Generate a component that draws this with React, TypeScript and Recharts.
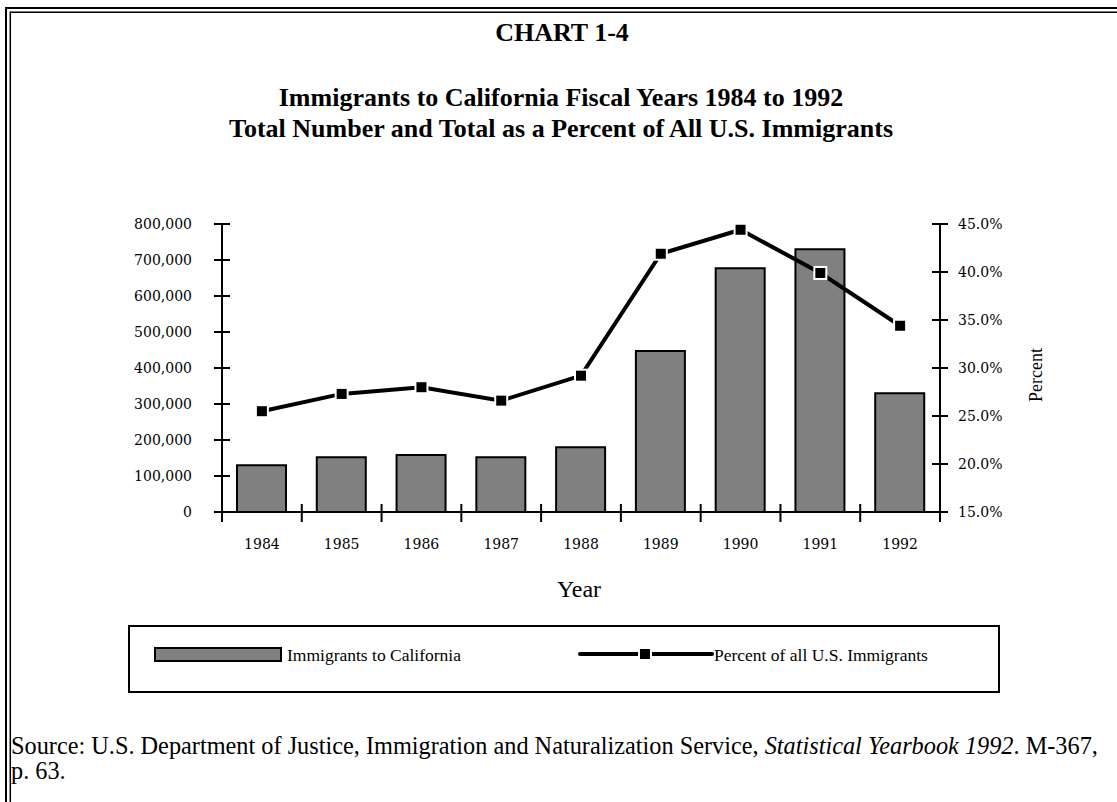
import React from 'react';
import { ComposedChart, Bar, Line, XAxis, YAxis } from 'recharts';

// ---------- data ----------
const years = ['1984', '1985', '1986', '1987', '1988', '1989', '1990', '1991', '1992'];
const immigrantsToCalifornia = [130000, 152000, 158000, 152000, 180000, 447000, 677000, 730000, 330000];
const percentOfAllUS = [25.5, 27.3, 28.0, 26.6, 29.2, 41.9, 44.4, 39.9, 34.4];
const leftTicks = [0, 100000, 200000, 300000, 400000, 500000, 600000, 700000, 800000];
const rightTicks = [15, 20, 25, 30, 35, 40, 45];
const chartLabel = 'CHART 1-4';
const titleLines = [
  'Immigrants to California Fiscal Years 1984 to 1992',
  'Total Number and Total as a Percent of All U.S. Immigrants',
];
const seriesNames = ['Immigrants to California', 'Percent of all U.S. Immigrants'];
const xAxisTitle = 'Year';
const rightAxisTitle = 'Percent';

const data = years.map((year, i) => ({
  year,
  immigrants: immigrantsToCalifornia[i],
  percent: percentOfAllUS[i],
}));

// ---------- layout ----------
const W = 1117;
const H = 802;
const PLOT_L = 222;
const PLOT_R = 940;
const PLOT_T = 224;
const PLOT_B = 512;
const AXIS_W = 80;
const XAXIS_H = 40;
const TICK_SIZE = 8;
const TICK_MARGIN = 2;
const BAND = (PLOT_R - PLOT_L) / years.length;

const serif = '"Liberation Serif", "Times New Roman", serif';
const tickFont = { fontFamily: '"DejaVu Serif", serif', fontSize: 14, fill: '#000' };

const LeftTick = (props: any) => {
  const { x, y, payload } = props;
  const ax = x + TICK_SIZE + TICK_MARGIN;
  return (
    <g>
      <line x1={ax - 8} x2={ax + 8} y1={y} y2={y} stroke="#000" strokeWidth={2} />
      <text x={ax - 30} y={y} dy="0.36em" textAnchor="end" style={tickFont}>
        {Number(payload.value).toLocaleString('en-US')}
      </text>
    </g>
  );
};

const RightTick = (props: any) => {
  const { x, y, payload } = props;
  const ax = x - TICK_SIZE - TICK_MARGIN;
  return (
    <g>
      <line x1={ax - 8} x2={ax + 8} y1={y} y2={y} stroke="#000" strokeWidth={2} />
      <text x={ax + 18} y={y} dy="0.36em" textAnchor="start" style={tickFont}>
        {Number(payload.value).toFixed(1) + '%'}
      </text>
    </g>
  );
};

const BottomTick = (props: any) => {
  const { x, y, payload, index } = props;
  const ay = y - TICK_SIZE - TICK_MARGIN;
  const left = x - BAND / 2;
  const right = x + BAND / 2;
  return (
    <g>
      <line x1={left} x2={left} y1={ay - 8} y2={ay + 10} stroke="#000" strokeWidth={2} />
      {index === years.length - 1 && (
        <line x1={right} x2={right} y1={ay - 8} y2={ay + 10} stroke="#000" strokeWidth={2} />
      )}
      <text x={x} y={ay + 37} textAnchor="middle" style={tickFont}>
        {payload.value}
      </text>
    </g>
  );
};

const SquareDot = (props: any) => {
  const { cx, cy, index } = props;
  if (cx == null || cy == null) return <g key={`d${index}`} />;
  return (
    <rect
      key={`d${index}`}
      x={cx - 6}
      y={cy - 6}
      width={12}
      height={12}
      fill="#000"
      stroke="#fff"
      strokeWidth={2}
    />
  );
};

export default function App() {
  return (
    <div
      style={{
        position: 'absolute',
        left: 0,
        top: 0,
        width: W,
        height: H,
        background: '#fff',
        overflow: 'hidden',
      }}
    >
      <div style={{ position: 'absolute', left: 0, top: 0 }}>
        <ComposedChart
          width={W}
          height={H}
          data={data}
          margin={{
            top: PLOT_T,
            left: PLOT_L - AXIS_W,
            right: W - PLOT_R - AXIS_W,
            bottom: H - PLOT_B - XAXIS_H,
          }}
        >
          <XAxis
            dataKey="year"
            height={XAXIS_H}
            interval={0}
            axisLine={{ stroke: '#000', strokeWidth: 2 }}
            tickLine={false}
            tickSize={TICK_SIZE}
            tickMargin={TICK_MARGIN}
            tick={<BottomTick />}
          />
          <YAxis
            yAxisId="left"
            orientation="left"
            width={AXIS_W}
            domain={[0, 800000]}
            ticks={leftTicks}
            interval={0}
            axisLine={{ stroke: '#000', strokeWidth: 2 }}
            tickLine={false}
            tickSize={TICK_SIZE}
            tickMargin={TICK_MARGIN}
            tick={<LeftTick />}
          />
          <YAxis
            yAxisId="right"
            orientation="right"
            width={AXIS_W}
            domain={[15, 45]}
            ticks={rightTicks}
            interval={0}
            axisLine={{ stroke: '#000', strokeWidth: 2 }}
            tickLine={false}
            tickSize={TICK_SIZE}
            tickMargin={TICK_MARGIN}
            tick={<RightTick />}
          />
          <Bar
            yAxisId="left"
            dataKey="immigrants"
            name={seriesNames[0]}
            barSize={49}
            fill="#808080"
            stroke="#000"
            strokeWidth={2}
            isAnimationActive={false}
          />
          <Line
            yAxisId="right"
            dataKey="percent"
            name={seriesNames[1]}
            type="linear"
            stroke="#000"
            strokeWidth={4}
            dot={SquareDot}
            activeDot={false}
            isAnimationActive={false}
          />
        </ComposedChart>
      </div>

      <svg
        width={W}
        height={H}
        style={{ position: 'absolute', left: 0, top: 0, pointerEvents: 'none' }}
      >
        {/* double frame */}
        <line x1={5} x2={W} y1={8} y2={8} stroke="#000" strokeWidth={2} />
        <line x1={6} x2={6} y1={7} y2={H} stroke="#000" strokeWidth={2} />
        <line x1={10} x2={W} y1={12.3} y2={12.3} stroke="#000" strokeWidth={1.5} />
        <line x1={10.3} x2={10.3} y1={11.5} y2={H} stroke="#000" strokeWidth={1.5} />

        {/* titles */}
        <text x={562} y={41} textAnchor="middle" fontFamily={serif} fontWeight="bold" fontSize={26} fill="#000">
          {chartLabel}
        </text>
        <text x={561} y={106} textAnchor="middle" fontFamily={serif} fontWeight="bold" fontSize={26} fill="#000">
          {titleLines[0]}
        </text>
        <text x={561} y={137} textAnchor="middle" fontFamily={serif} fontWeight="bold" fontSize={26} fill="#000">
          {titleLines[1]}
        </text>

        {/* axis titles */}
        <text x={579} y={597} textAnchor="middle" fontFamily={serif} fontSize={24} fill="#000">
          {xAxisTitle}
        </text>
        <text
          transform="translate(1042,375) rotate(-90)"
          textAnchor="middle"
          fontFamily={serif}
          fontSize={18}
          fill="#000"
        >
          {rightAxisTitle}
        </text>

        {/* legend */}
        <rect x={129} y={626} width={870} height={66} fill="#fff" stroke="#000" strokeWidth={2} />
        <rect x={155} y={648} width={126} height={13} fill="#808080" stroke="#000" strokeWidth={2} />
        <text x={287} y={661} fontFamily={serif} fontSize={17.5} fill="#000">
          {seriesNames[0]}
        </text>
        <line x1={580} x2={712} y1={654} y2={654} stroke="#000" strokeWidth={4} strokeLinecap="round" />
        <rect x={639} y={648} width={12} height={12} fill="#000" stroke="#fff" strokeWidth={2} />
        <text x={714} y={661} fontFamily={serif} fontSize={17.5} fill="#000">
          {seriesNames[1]}
        </text>

        {/* source */}
        <text x={11} y={754} fontFamily={serif} fontSize={24.3} fill="#000">
          <tspan>Source: U.S. Department of Justice, Immigration and Naturalization Service, </tspan>
          <tspan fontStyle="italic">Statistical Yearbook 1992</tspan>
          <tspan>. M-367,</tspan>
        </text>
        <text x={11} y={779} fontFamily={serif} fontSize={24.3} fill="#000">
          p. 63.
        </text>
      </svg>
    </div>
  );
}
